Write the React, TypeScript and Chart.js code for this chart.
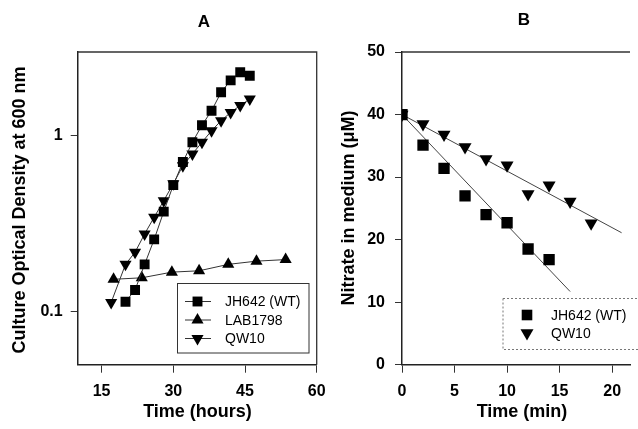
import React, { useEffect, useRef } from 'react';
import { Chart, registerables } from 'chart.js';
Chart.register(...registerables);

// ---------- Panel A data: growth ----------
const jhHours = [20, 22, 24, 26, 28, 30, 32, 34, 36, 38, 40, 42, 44, 46];
const jhOD = [0.114, 0.133, 0.186, 0.258, 0.371, 0.525, 0.71, 0.92, 1.15, 1.39, 1.77, 2.07, 2.3, 2.2];
const labHours = [17.5, 23.4, 29.7, 35.4, 41.5, 47.4, 53.5];
const labOD = [0.153, 0.156, 0.168, 0.171, 0.186, 0.194, 0.198];
const qwHours = [17, 20, 22, 24, 26, 28, 30, 32, 34, 36, 38, 40, 42, 44, 46];
const qwOD = [0.113, 0.186, 0.218, 0.277, 0.345, 0.428, 0.535, 0.676, 0.79, 0.92, 1.07, 1.22, 1.36, 1.49, 1.62];
const hourTicks = [15, 30, 45, 60];
const odTicks = [0.1, 1];
const odTickLabels = ['0.1', '1'];

// ---------- Panel B data: nitrate ----------
const jhMin = [0, 2, 4, 6, 8, 10, 12, 14];
const jhNitrate = [40, 35.1, 31.4, 27.0, 24.0, 22.7, 18.5, 16.8];
const qwMin = [0, 2, 4, 6, 8, 10, 12, 14, 16, 18];
const qwNitrate = [40, 38.5, 36.8, 34.8, 32.9, 31.9, 27.3, 28.7, 26.1, 22.6];
const jhFitMin = [0, 16];
const jhFitNitrate = [40, 11.7];
const qwFitMin = [0, 20.9];
const qwFitNitrate = [40, 21.1];
const minTicks = [0, 5, 10, 15, 20];
const nitrateTicks = [0, 10, 20, 30, 40, 50];

const seriesNames = ['JH642 (WT)', 'LAB1798', 'QW10'];

const FONT = "'Liberation Sans', Arial, Helvetica, sans-serif";
const W = 638;
const H = 429;

const pts = (xs: number[], ys: number[]) => xs.map((x, i) => ({ x, y: ys[i] }));

function drawMarker(ctx: CanvasRenderingContext2D, style: string, x: number, y: number, r: number, rot: number) {
  ctx.beginPath();
  if (style === 'rect') {
    const s = Math.SQRT1_2 * r;
    ctx.rect(x - s, y - s, 2 * s, 2 * s);
  } else {
    let rad = (rot * Math.PI) / 180;
    ctx.moveTo(x + Math.sin(rad) * r, y - Math.cos(rad) * r);
    rad += (2 * Math.PI) / 3;
    ctx.lineTo(x + Math.sin(rad) * r, y - Math.cos(rad) * r);
    rad += (2 * Math.PI) / 3;
    ctx.lineTo(x + Math.sin(rad) * r, y - Math.cos(rad) * r);
    ctx.closePath();
  }
  ctx.fillStyle = '#000';
  ctx.fill();
}

type LegendItem = { label: string; style: string; rot: number; line: boolean };

function makePanelPlugin(opts: {
  id: string;
  title: string;
  titleX: number;
  titleY: number;
  xTitle: string;
  xTitleX: number;
  yTitle: string;
  yTitleX: number;
  yTitleY: number;
  box: 'full' | 'top';
  legend: { x: number; y: number; w: number; h: number; dashed: boolean; rows: number[]; markerX: number; lineX0: number; lineX1: number; textX: number; r: number; items: LegendItem[] };
}) {
  return {
    id: opts.id,
    afterDraw(chart: any) {
      const ctx: CanvasRenderingContext2D = chart.ctx;
      const ca = chart.chartArea;
      ctx.save();
      // frame
      ctx.strokeStyle = '#333';
      ctx.lineWidth = 1.3;
      ctx.beginPath();
      ctx.moveTo(ca.left, ca.top);
      ctx.lineTo(ca.right, ca.top);
      if (opts.box === 'full') ctx.lineTo(ca.right, ca.bottom);
      ctx.stroke();

      // titles
      ctx.fillStyle = '#000';
      ctx.textAlign = 'center';
      ctx.textBaseline = 'middle';
      ctx.font = `bold 17px ${FONT}`;
      ctx.fillText(opts.title, opts.titleX, opts.titleY);
      ctx.font = `bold 18px ${FONT}`;
      ctx.fillText(opts.xTitle, opts.xTitleX, 412);
      ctx.save();
      ctx.translate(opts.yTitleX, opts.yTitleY);
      ctx.rotate(-Math.PI / 2);
      ctx.fillText(opts.yTitle, 0, 0);
      ctx.restore();

      // legend
      const L = opts.legend;
      ctx.fillStyle = '#fff';
      ctx.fillRect(L.x, L.y, L.w, L.h);
      ctx.lineWidth = 1;
      ctx.strokeStyle = L.dashed ? '#777' : '#333';
      if (L.dashed) ctx.setLineDash([2, 2]);
      ctx.strokeRect(L.x + 0.5, L.y + 0.5, L.w, L.h);
      ctx.setLineDash([]);
      ctx.font = `14px ${FONT}`;
      ctx.textAlign = 'left';
      L.items.forEach((it, i) => {
        const y = L.rows[i];
        if (it.line) {
          ctx.strokeStyle = '#333';
          ctx.lineWidth = 1;
          ctx.beginPath();
          ctx.moveTo(L.lineX0, y);
          ctx.lineTo(L.lineX1, y);
          ctx.stroke();
        }
        drawMarker(ctx, it.style, L.markerX, y, L.r, it.rot);
        ctx.fillStyle = '#000';
        ctx.fillText(it.label, L.textX, y + 1);
      });
      ctx.restore();
    },
  };
}

const axisCommon = {
  border: { display: true, color: '#222', width: 1.5 },
  grid: { drawOnChartArea: false, drawTicks: true, tickLength: 7, color: '#333', lineWidth: 1 },
};
const tickFont = { family: FONT, size: 16, weight: 'bold' as const };

export default function App() {
  const refA = useRef<HTMLCanvasElement>(null);
  const refB = useRef<HTMLCanvasElement>(null);

  useEffect(() => {
    const lineDs = (label: string, data: any[], style: string, rot: number, r: number) => ({
      label,
      data,
      showLine: true,
      borderColor: '#333',
      borderWidth: 1,
      pointStyle: style,
      rotation: rot,
      pointRadius: r,
      pointBackgroundColor: '#000',
      pointBorderColor: '#000',
      pointBorderWidth: 0,
    });

    const chartA = new Chart(refA.current!, {
      type: 'scatter',
      data: {
        datasets: [
          lineDs(seriesNames[0], pts(jhHours, jhOD), 'rect', 0, 7),
          lineDs(seriesNames[1], pts(labHours, labOD), 'triangle', 0, 7),
          lineDs(seriesNames[2], pts(qwHours, qwOD), 'triangle', 180, 7),
        ],
      },
      options: {
        animation: false,
        responsive: false,
        events: [],
        layout: { padding: { left: 0, top: 52, right: W - 316.7, bottom: 0 } },
        plugins: { legend: { display: false }, tooltip: { enabled: false }, title: { display: false } },
        scales: {
          x: {
            type: 'linear',
            min: 10,
            max: 60,
            ...axisCommon,
            grid: { ...axisCommon.grid, tickLength: 8 },
            afterBuildTicks: (s: any) => { s.ticks = hourTicks.map((v) => ({ value: v })); },
            afterFit: (s: any) => { s.height = H - 364.7; },
            ticks: { color: '#000', font: tickFont, padding: 9, maxRotation: 0, autoSkip: false },
          },
          y: {
            type: 'logarithmic',
            min: 0.05,
            max: 3,
            ...axisCommon,
            afterBuildTicks: (s: any) => { s.ticks = odTicks.map((v) => ({ value: v })); },
            afterFit: (s: any) => { s.width = 77.7; },
            ticks: {
              color: '#000',
              font: tickFont,
              padding: 8,
              autoSkip: false,
              callback: (v: any) => odTickLabels[odTicks.indexOf(Number(v))] ?? '',
            },
          },
        },
      } as any,
      plugins: [
        makePanelPlugin({
          id: 'panelA',
          title: 'A',
          titleX: 204,
          titleY: 22,
          xTitle: 'Time (hours)',
          xTitleX: 197.5,
          yTitle: 'Culture Optical Density at 600 nm',
          yTitleX: 20,
          yTitleY: 210,
          box: 'full',
          legend: {
            x: 177, y: 283, w: 131.5, h: 69.5, dashed: false,
            rows: [301.5, 320, 338.5], markerX: 197.5, lineX0: 185, lineX1: 211, textX: 225, r: 7,
            items: [
              { label: seriesNames[0], style: 'rect', rot: 0, line: true },
              { label: seriesNames[1], style: 'triangle', rot: 0, line: true },
              { label: seriesNames[2], style: 'triangle', rot: 180, line: true },
            ],
          },
        }) as any,
      ],
    });

    const chartB = new Chart(refB.current!, {
      type: 'scatter',
      data: {
        datasets: [
          { label: seriesNames[0], data: pts(jhMin, jhNitrate), pointStyle: 'rect', pointRadius: 8, pointBackgroundColor: '#000', pointBorderWidth: 0, showLine: false },
          { label: seriesNames[2], data: pts(qwMin, qwNitrate), pointStyle: 'triangle', rotation: 180, pointRadius: 7.5, pointBackgroundColor: '#000', pointBorderWidth: 0, showLine: false },
          { label: 'fitJH', data: pts(jhFitMin, jhFitNitrate), showLine: true, pointRadius: 0, borderColor: '#444', borderWidth: 1 },
          { label: 'fitQW', data: pts(qwFitMin, qwFitNitrate), showLine: true, pointRadius: 0, borderColor: '#444', borderWidth: 1 },
        ],
      },
      options: {
        animation: false,
        responsive: false,
        events: [],
        layout: { padding: { left: 320, top: 52, right: 1, bottom: 0 } },
        plugins: { legend: { display: false }, tooltip: { enabled: false }, title: { display: false } },
        scales: {
          x: {
            type: 'linear',
            min: 0,
            max: 21.7,
            ...axisCommon,
            grid: { ...axisCommon.grid, tickLength: 8 },
            afterBuildTicks: (s: any) => { s.ticks = minTicks.map((v) => ({ value: v })); },
            afterFit: (s: any) => { s.height = H - 364.7; },
            ticks: { color: '#000', font: tickFont, padding: 9, maxRotation: 0, autoSkip: false },
          },
          y: {
            type: 'linear',
            min: 0,
            max: 50,
            ...axisCommon,
            afterBuildTicks: (s: any) => { s.ticks = nitrateTicks.map((v) => ({ value: v })); },
            afterFit: (s: any) => { s.width = 402 - 320; },
            ticks: { color: '#000', font: tickFont, padding: 10, autoSkip: false },
          },
        },
      } as any,
      plugins: [
        makePanelPlugin({
          id: 'panelB',
          title: 'B',
          titleX: 524,
          titleY: 20,
          xTitle: 'Time (min)',
          xTitleX: 522,
          yTitle: 'Nitrate in medium (\u03bcM)',
          yTitleX: 349,
          yTitleY: 208,
          box: 'top',
          legend: {
            x: 502.5, y: 298, w: 140, h: 51, dashed: true,
            rows: [315, 333], markerX: 527, lineX0: 0, lineX1: 0, textX: 551, r: 7.5,
            items: [
              { label: seriesNames[0], style: 'rect', rot: 0, line: false },
              { label: seriesNames[2], style: 'triangle', rot: 180, line: false },
            ],
          },
        }) as any,
      ],
    });

    return () => {
      chartA.destroy();
      chartB.destroy();
    };
  }, []);

  const cstyle: React.CSSProperties = { position: 'absolute', left: 0, top: 0, width: W, height: H };
  return (
    <div style={{ position: 'absolute', left: 0, top: 0, width: W, height: H, background: '#fff', overflow: 'hidden' }}>
      <canvas ref={refB} width={W} height={H} style={cstyle} />
      <canvas ref={refA} width={W} height={H} style={cstyle} />
    </div>
  );
}
